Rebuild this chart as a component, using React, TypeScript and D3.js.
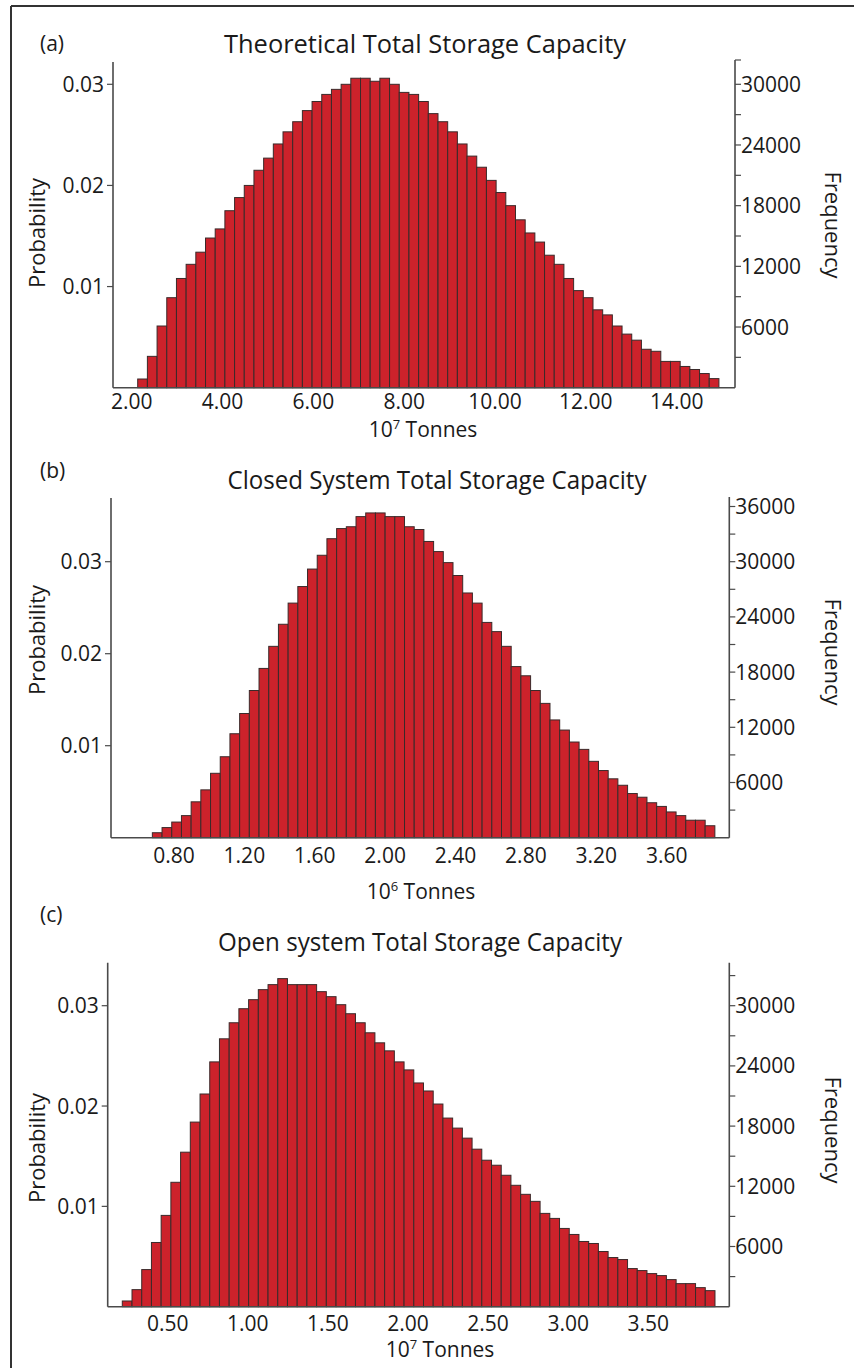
import React from "react";
import * as d3 from "d3";

// Bin probabilities for each simulated capacity distribution
const theoreticalProb = [
  0.00086, 0.0031, 0.0061, 0.0089, 0.0108, 0.0122, 0.0134, 0.0148, 0.0157, 0.0175,
  0.0188, 0.02, 0.0215, 0.0227, 0.0241, 0.0253, 0.0263, 0.0274, 0.0283, 0.029,
  0.0295, 0.03, 0.0306, 0.0306, 0.0303, 0.0306, 0.03, 0.0292, 0.029, 0.0283,
  0.0271, 0.0263, 0.0253, 0.0241, 0.0229, 0.0218, 0.0205, 0.0193, 0.018, 0.0166,
  0.0153, 0.0144, 0.0131, 0.0122, 0.0108, 0.0096, 0.0089, 0.0077, 0.0072, 0.0061,
  0.0053, 0.0047, 0.0038, 0.0036, 0.0026, 0.0026, 0.0021, 0.0018, 0.0014, 0.0009,
];
const closedProb = [
  0.00054, 0.0011, 0.0017, 0.0024, 0.0039, 0.0052, 0.007, 0.0088, 0.0113, 0.0135,
  0.016, 0.0184, 0.0208, 0.0232, 0.0255, 0.0273, 0.0292, 0.0307, 0.0325, 0.0336,
  0.0338, 0.0349, 0.0353, 0.0353, 0.0349, 0.0349, 0.0338, 0.0335, 0.0322, 0.0311,
  0.0299, 0.0285, 0.0266, 0.0255, 0.0234, 0.0224, 0.0208, 0.0186, 0.0176, 0.016,
  0.0146, 0.0128, 0.0117, 0.0104, 0.0096, 0.0083, 0.0073, 0.0064, 0.0057, 0.0048,
  0.0044, 0.0038, 0.0034, 0.0028, 0.0024, 0.0019, 0.0019, 0.0013,
];
const openProb = [
  0.00057, 0.0017, 0.0037, 0.0064, 0.0091, 0.0124, 0.0154, 0.0184, 0.0212, 0.0244,
  0.0267, 0.0283, 0.0297, 0.0306, 0.0316, 0.0321, 0.0327, 0.0321, 0.0321, 0.0321,
  0.0314, 0.0309, 0.0301, 0.0292, 0.0283, 0.0273, 0.0263, 0.0255, 0.0244, 0.0236,
  0.0223, 0.0215, 0.0202, 0.0188, 0.0178, 0.0168, 0.0157, 0.0146, 0.0141, 0.0131,
  0.0121, 0.0112, 0.0105, 0.0093, 0.0088, 0.0078, 0.0072, 0.0065, 0.0063, 0.0055,
  0.0049, 0.0047, 0.0038, 0.0036, 0.0033, 0.0031, 0.0027, 0.0023, 0.0023, 0.0019,
  0.0016,
];

// Bin edges: first edge and bin width in axis units
const theoreticalBinStart = 2.132;
const theoreticalBinWidth = 0.2133;
const closedBinStart = 0.677;
const closedBinWidth = 0.05512;
const openBinStart = 0.2166;
const openBinWidth = 0.06065;

// Tick values
const theoreticalXTicks = [2, 4, 6, 8, 10, 12, 14];
const closedXTicks = [0.8, 1.2, 1.6, 2.0, 2.4, 2.8, 3.2, 3.6];
const openXTicks = [0.5, 1.0, 1.5, 2.0, 2.5, 3.0, 3.5];
const probTicks = [0.01, 0.02, 0.03];
const freqLabelsA = [6000, 12000, 18000, 24000, 30000];
const freqLabelsB = [6000, 12000, 18000, 24000, 30000, 36000];
const freqLabelsC = [6000, 12000, 18000, 24000, 30000];
const FREQ_PER_PROB = 1e6;

const FONT = "'Open Sans', 'Noto Sans', sans-serif";
const BAR_FILL = "#cc222b";
const BAR_STROKE = "#3a2a2a";
const AXIS = "#4a4a4a";
const TEXT = "#1a1a1a";

type PanelProps = {
  tag: string;
  title: string;
  titleWidth: number;
  titleX: number;
  titleY: number;
  tagY: number;
  exponent: string;
  probs: number[];
  binStart: number;
  binWidth: number;
  xTicks: number[];
  freqLabels: number[];
  xDomain: [number, number];
  left: number;
  right: number;
  leftTop: number;
  rightTop: number;
  base: number;
  y03: number;
  tickY: number;
  unitX: number;
  unitY: number;
  probY: number;
  freqY: number;
  topCap: boolean;
};

function Panel(p: PanelProps) {
  const x = d3.scaleLinear().domain(p.xDomain).range([p.left, p.right]);
  const y = d3.scaleLinear().domain([0, 0.03]).range([p.base, p.y03]);
  const yf = (f: number) => y(f / FREQ_PER_PROB);
  const maxFreq = y.invert(p.rightTop) * FREQ_PER_PROB;
  const freqTicks = d3.range(3000, maxFreq + 1, 3000);
  const labelSet = new Set(p.freqLabels);

  return (
    <g>
      <text x={40} y={p.tagY} fontSize={21} fill={TEXT} fontFamily={FONT}>
        {p.tag}
      </text>
      <text
        x={p.titleX}
        y={p.titleY}
        fontSize={25}
        fill={TEXT}
        fontFamily={FONT}
        textAnchor="middle"
        textLength={p.titleWidth}
        lengthAdjust="spacingAndGlyphs"
      >
        {p.title}
      </text>

      {p.probs.map((v, i) => {
        const x0 = x(p.binStart + i * p.binWidth);
        const x1 = x(p.binStart + (i + 1) * p.binWidth);
        return (
          <rect
            key={i}
            x={x0}
            y={y(v)}
            width={x1 - x0}
            height={p.base - y(v)}
            fill={BAR_FILL}
            stroke={BAR_STROKE}
            strokeWidth={1}
          />
        );
      })}

      {/* axes */}
      <line x1={p.left} x2={p.left} y1={p.leftTop} y2={p.base} stroke={AXIS} strokeWidth={1.6} />
      <line x1={p.right} x2={p.right} y1={p.rightTop} y2={p.base} stroke={AXIS} strokeWidth={1.6} />
      <line x1={p.left} x2={p.right} y1={p.base} y2={p.base} stroke={AXIS} strokeWidth={1.6} />

      {probTicks.map((t) => (
        <g key={t}>
          <line x1={p.left - 6} x2={p.left} y1={y(t)} y2={y(t)} stroke={AXIS} strokeWidth={1.2} />
          <text
            x={p.left - 9}
            y={y(t)}
            dy="0.36em"
            fontSize={21}
            fill={TEXT}
            fontFamily={FONT}
            textAnchor="end"
          >
            {t.toFixed(2)}
          </text>
        </g>
      ))}

      {freqTicks.map((f) => (
        <g key={f}>
          <line x1={p.right} x2={p.right + 6} y1={yf(f)} y2={yf(f)} stroke={AXIS} strokeWidth={1.2} />
          {labelSet.has(f) && (
            <text
              x={p.right + 6}
              y={yf(f)}
              dy="0.36em"
              fontSize={21}
              fill={TEXT}
              fontFamily={FONT}
            >
              {f}
            </text>
          )}
        </g>
      ))}
      {p.topCap && (
        <line x1={p.right} x2={p.right + 6} y1={p.rightTop} y2={p.rightTop} stroke={AXIS} strokeWidth={1.2} />
      )}

      {p.xTicks.map((t) => (
        <text
          key={t}
          x={x(t)}
          y={p.tickY}
          fontSize={21}
          fill={TEXT}
          fontFamily={FONT}
          textAnchor="middle"
        >
          {t.toFixed(2)}
        </text>
      ))}

      <text x={p.unitX} y={p.unitY} fontSize={21} fill={TEXT} fontFamily={FONT} textAnchor="middle">
        <tspan>10</tspan>
        <tspan dy={-8} fontSize={13}>
          {p.exponent}
        </tspan>
        <tspan dy={8}> Tonnes</tspan>
      </text>

      <text
        transform={`translate(37,${p.probY}) rotate(-90)`}
        dy="0.36em"
        fontSize={22}
        fill={TEXT}
        fontFamily={FONT}
        textAnchor="middle"
      >
        Probability
      </text>
      <text
        transform={`translate(833,${p.freqY}) rotate(90)`}
        dy="0.36em"
        fontSize={22}
        fill={TEXT}
        fontFamily={FONT}
        textAnchor="middle"
      >
        Frequency
      </text>
    </g>
  );
}

export default function App() {
  return (
    <svg
      width={854}
      height={1368}
      style={{ position: "absolute", left: 0, top: 0, background: "#fff" }}
    >
      <rect x={0} y={0} width={854} height={1368} fill="#fff" />
      <line x1={11} x2={854} y1={6} y2={6} stroke="#333" strokeWidth={2} />
      <line x1={11} x2={11} y1={6} y2={1368} stroke="#333" strokeWidth={2} />

      <Panel
        tag="(a)"
        title="Theoretical Total Storage Capacity"
        titleWidth={402}
        titleX={425}
        titleY={53}
        tagY={51}
        exponent="7"
        probs={theoreticalProb}
        binStart={theoreticalBinStart}
        binWidth={theoreticalBinWidth}
        xTicks={theoreticalXTicks}
        freqLabels={freqLabelsA}
        xDomain={[1.588, 15.284]}
        left={113}
        right={735}
        leftTop={62}
        rightTop={60}
        base={387.7}
        y03={84.3}
        tickY={409}
        unitX={423}
        unitY={437}
        probY={233}
        freqY={225}
        topCap={true}
      />
      <Panel
        tag="(b)"
        title="Closed System Total Storage Capacity"
        titleWidth={419}
        titleX={437}
        titleY={489}
        tagY={478}
        exponent="6"
        probs={closedProb}
        binStart={closedBinStart}
        binWidth={closedBinWidth}
        xTicks={closedXTicks}
        freqLabels={freqLabelsB}
        xDomain={[0.442, 3.956]}
        left={111}
        right={729.3}
        leftTop={498}
        rightTop={497}
        base={837.7}
        y03={561.7}
        tickY={863}
        unitX={421}
        unitY={899}
        probY={640}
        freqY={652}
        topCap={false}
      />
      <Panel
        tag="(c)"
        title="Open system Total Storage Capacity"
        titleWidth={404}
        titleX={420}
        titleY={951}
        tagY={922}
        exponent="7"
        probs={openProb}
        binStart={openBinStart}
        binWidth={openBinWidth}
        xTicks={openXTicks}
        freqLabels={freqLabelsC}
        xDomain={[0.1255, 4.0056]}
        left={107.7}
        right={729.3}
        leftTop={962.7}
        rightTop={962.7}
        base={1306.7}
        y03={1005.7}
        tickY={1331}
        unitX={440}
        unitY={1357}
        probY={1148}
        freqY={1130}
        topCap={false}
      />
    </svg>
  );
}
